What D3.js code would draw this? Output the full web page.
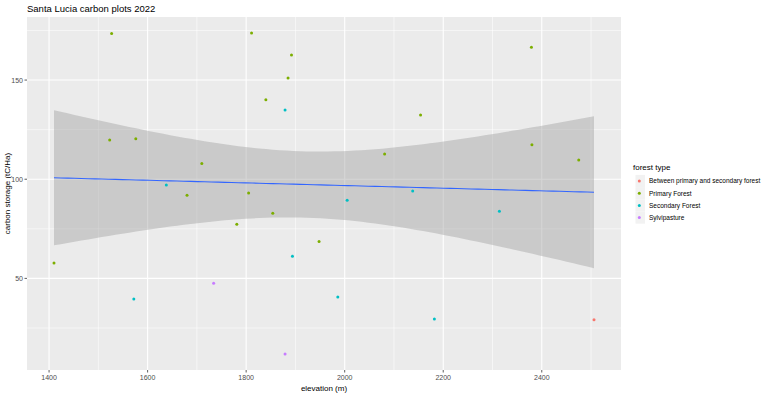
<!DOCTYPE html>
<html>
<head>
<meta charset="utf-8">
<script src="https://cdn.jsdelivr.net/npm/d3@7"></script>
<style>
  body { margin: 0; background: #fff; }
  text { font-family: "Liberation Sans", Arial, sans-serif; }
</style>
</head>
<body>
<div id="chart"></div>
<script>
const forestTypes = ["Between primary and secondary forest", "Primary Forest", "Secondary Forest", "Sylvipasture"];
const typeColors = ["#F8766D", "#7CAE00", "#00BFC4", "#C77CFF"];

// plots: elevation (m), carbon storage (tC/Ha), forest type index
const plotElevation = [1527, 1523, 1576, 1710, 1680, 1811, 1892, 1885, 1840, 2081, 1805, 2379, 2154, 2380, 2475, 1410, 1854, 1781, 1948,
                       1638, 1879, 2138, 1572, 2005, 1894, 1986, 2314, 2182,
                       1734, 1879,
                       2506];
const plotCarbon = [173.5, 119.8, 120.4, 107.9, 91.9, 173.7, 162.6, 151.0, 140.1, 112.7, 93.1, 166.5, 132.4, 117.4, 109.7, 57.7, 82.9, 77.3, 68.6,
                    97.1, 134.9, 94.0, 39.6, 89.4, 61.2, 40.6, 83.9, 29.5,
                    47.6, 11.9,
                    29.2];
const plotType = [1, 1, 1, 1, 1, 1, 1, 1, 1, 1, 1, 1, 1, 1, 1, 1, 1, 1, 1,
                  2, 2, 2, 2, 2, 2, 2, 2, 2,
                  3, 3,
                  0];

const xTicks = [1400, 1600, 1800, 2000, 2200, 2400];
const xMinor = [1500, 1700, 1900, 2100, 2300, 2500];
const yTicks = [50, 100, 150];
const yMinor = [25, 75, 125, 175];

const W = 768, H = 394;
const panel = {left: 27, right: 621, top: 17, bottom: 370};

const data = plotElevation.map((e, i) => ({elev: e, carbon: plotCarbon[i], type: plotType[i]}));

const svg = d3.select('#chart').append('svg').attr('width', W).attr('height', H);

function expand(ext) {
    const pad = (ext[1] - ext[0]) * 0.05;
    return [ext[0] - pad, ext[1] + pad];
}
const x = d3.scaleLinear().domain(expand(d3.extent(data, d => d.elev))).range([panel.left, panel.right]);
const y = d3.scaleLinear().domain(expand(d3.extent(data, d => d.carbon))).range([panel.bottom, panel.top]);

// panel background + grid
svg.append('rect')
    .attr('x', panel.left).attr('y', panel.top)
    .attr('width', panel.right - panel.left).attr('height', panel.bottom - panel.top)
    .attr('fill', '#EBEBEB');

const grid = svg.append('g');
xMinor.forEach(v => grid.append('line').attr('x1', x(v)).attr('x2', x(v)).attr('y1', panel.top).attr('y2', panel.bottom)
    .attr('stroke', '#fff').attr('stroke-width', 0.55));
yMinor.forEach(v => grid.append('line').attr('y1', y(v)).attr('y2', y(v)).attr('x1', panel.left).attr('x2', panel.right)
    .attr('stroke', '#fff').attr('stroke-width', 0.55));
xTicks.forEach(v => grid.append('line').attr('x1', x(v)).attr('x2', x(v)).attr('y1', panel.top).attr('y2', panel.bottom)
    .attr('stroke', '#fff').attr('stroke-width', 1.1));
yTicks.forEach(v => grid.append('line').attr('y1', y(v)).attr('y2', y(v)).attr('x1', panel.left).attr('x2', panel.right)
    .attr('stroke', '#fff').attr('stroke-width', 1.1));

// linear model fit with 95% confidence band (like geom_smooth(method = "lm"))
const n = data.length;
const xbar = d3.mean(data, d => d.elev);
const ybar = d3.mean(data, d => d.carbon);
const sxx = d3.sum(data, d => (d.elev - xbar) ** 2);
const sxy = d3.sum(data, d => (d.elev - xbar) * (d.carbon - ybar));
const slope = sxy / sxx;
const intercept = ybar - slope * xbar;
const rss = d3.sum(data, d => (d.carbon - (intercept + slope * d.elev)) ** 2);
const sigma = Math.sqrt(rss / (n - 2));
const tCrit = 2.045; // t(0.975, df = 29)

const [ex0, ex1] = d3.extent(data, d => d.elev);
const fit = d3.range(80).map(i => {
    const xv = ex0 + (ex1 - ex0) * i / 79;
    const yv = intercept + slope * xv;
    const se = sigma * Math.sqrt(1 / n + (xv - xbar) ** 2 / sxx);
    return {x: xv, y: yv, lo: yv - tCrit * se, hi: yv + tCrit * se};
});

svg.append('path')
    .datum(fit)
    .attr('fill', '#999999')
    .attr('fill-opacity', 0.4)
    .attr('d', d3.area().x(d => x(d.x)).y0(d => y(d.lo)).y1(d => y(d.hi)));

svg.append('path')
    .datum(fit)
    .attr('fill', 'none')
    .attr('stroke', '#3366FF')
    .attr('stroke-width', 1.1)
    .attr('d', d3.line().x(d => x(d.x)).y(d => y(d.y)));

// points
svg.selectAll('.dot')
    .data(data)
    .enter()
    .append('circle')
    .attr('class', 'dot')
    .attr('cx', d => x(d.elev))
    .attr('cy', d => y(d.carbon))
    .attr('r', 1.5)
    .attr('fill', d => typeColors[d.type]);

// axes
const xAxis = svg.append('g');
xTicks.forEach(v => {
    xAxis.append('line').attr('x1', x(v)).attr('x2', x(v)).attr('y1', panel.bottom).attr('y2', panel.bottom + 2.5)
        .attr('stroke', '#333').attr('stroke-width', 0.8);
    xAxis.append('text').attr('x', x(v)).attr('y', panel.bottom + 10)
        .attr('text-anchor', 'middle').style('font-size', '7px').attr('fill', '#4D4D4D').text(v);
});
const yAxis = svg.append('g');
yTicks.forEach(v => {
    yAxis.append('line').attr('x1', panel.left - 2.5).attr('x2', panel.left).attr('y1', y(v)).attr('y2', y(v))
        .attr('stroke', '#333').attr('stroke-width', 0.8);
    yAxis.append('text').attr('x', panel.left - 4).attr('y', y(v) + 2.5)
        .attr('text-anchor', 'end').style('font-size', '7px').attr('fill', '#4D4D4D').text(v);
});

svg.append('text')
    .attr('x', (panel.left + panel.right) / 2).attr('y', 391)
    .attr('text-anchor', 'middle').style('font-size', '8px').attr('fill', '#000')
    .text('elevation (m)');

svg.append('text')
    .attr('transform', `translate(10, ${(panel.top + panel.bottom) / 2}) rotate(-90)`)
    .attr('text-anchor', 'middle').style('font-size', '8px').attr('fill', '#000')
    .text('carbon storage (tC/Ha)');

svg.append('text')
    .attr('x', 27).attr('y', 12)
    .style('font-size', '9.5px').attr('fill', '#000')
    .text('Santa Lucia carbon plots 2022');

// legend
const legend = svg.append('g').attr('transform', 'translate(633, 0)');
legend.append('text').attr('x', 0).attr('y', 170).style('font-size', '8px').attr('fill', '#000').text('forest type');
forestTypes.forEach((t, i) => {
    const cy = 181 + i * 12.2;
    legend.append('rect').attr('x', 2.5).attr('y', cy - 6.1).attr('width', 9.5).attr('height', 12.2).attr('fill', '#F2F2F2');
    legend.append('circle').attr('cx', 6.3).attr('cy', cy).attr('r', 1.5).attr('fill', typeColors[i]);
    legend.append('text').attr('x', 16).attr('y', cy + 2.3).style('font-size', '6.5px').attr('fill', '#000').text(t);
});
</script>
</body>
</html>
